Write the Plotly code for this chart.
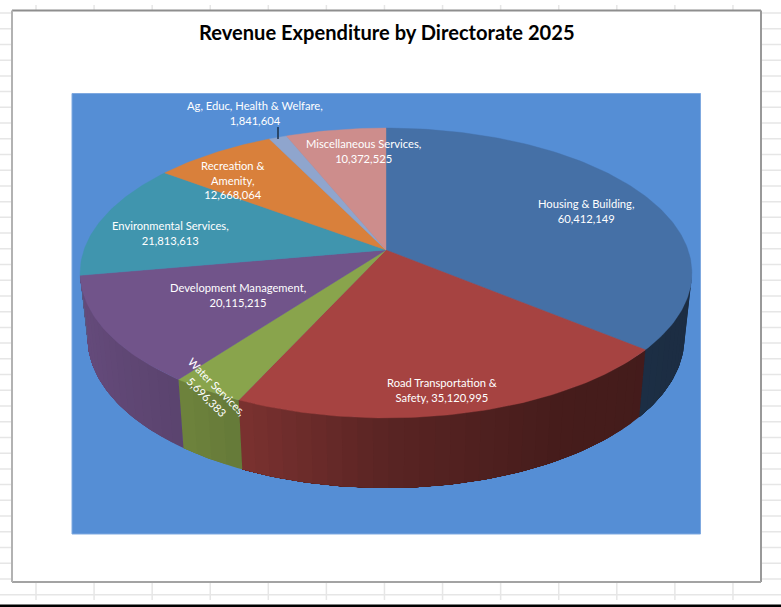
import numpy as np
import plotly.graph_objects as go

# Revenue expenditure by directorate, clockwise from twelve o'clock
directorates = ["Housing & Building", "Road Transportation & Safety", "Water Services",
                "Development Management", "Environmental Services", "Recreation & Amenity",
                "Ag, Educ, Health & Welfare", "Miscellaneous Services"]
expenditure = [60412149, 35120995, 5696383, 20115215, 21813613, 12668064, 1841604, 10372525]
top_colors = ["#4570a6", "#a64341", "#89a44c", "#71548a", "#4095ae", "#d9803b", "#8fa5cd", "#cd8d8c"]

W, H = 781, 607
PIE_X, PIE_Y = 386.0, 250.0
RX, RY, PERSP = 302.0, 141.3, 0.1586


def rim(theta):
    """Perspective projection of a point on the pie's top rim."""
    u, v = np.sin(theta), np.cos(theta)
    w = 1 + PERSP * v
    return PIE_X + RX * u / w, PIE_Y - RY * v / w


def base(x, y):
    """The matching point on the lower edge of the pie's wall."""
    return PIE_X + 0.976 * (x - PIE_X), y + 70 + 0.04 * (y - 418)


def shade(hex_color, factor):
    rgb = [int(hex_color[i:i + 2], 16) for i in (1, 3, 5)]
    return "rgb({},{},{})".format(*[int(round(c * factor)) for c in rgb])


fig = go.Figure()

total = sum(expenditure)
edges = np.radians(np.concatenate([[0], np.cumsum(expenditure) / total * 360]))

# Wall of the pie: bands whose shading darkens from left to right. Each band
# runs on to the end of its slice and the next one paints over it, so no seams show.
WALL_FROM, WALL_TO = np.radians(99), np.radians(261)
for i, color in enumerate(top_colors):
    a0, a1 = max(edges[i], WALL_FROM), min(edges[i + 1], WALL_TO)
    if a1 <= a0:
        continue
    steps = max(1, int(np.degrees(a1 - a0) / 2.5))
    ticks = np.linspace(a0, a1, steps + 1)
    for t0 in ticks[:-1]:
        arc = np.linspace(t0, a1, max(3, int(np.degrees(a1 - t0)) + 2))
        xt, yt = rim(arc)
        xb, yb = base(xt, yt)
        factor = np.interp(np.sin(t0 + (a1 - a0) / steps / 2),
                           [-1, -0.6, -0.42, 0, 0.5, 1],
                           [0.90, 0.80, 0.74, 0.54, 0.42, 0.40])
        fill = shade(color, factor)
        fig.add_trace(go.Scatter(
            x=np.concatenate([xt, xb[::-1]]), y=np.concatenate([yt, yb[::-1]]),
            mode="lines", fill="toself", fillcolor=fill,
            line=dict(width=0),
            hoverinfo="skip", showlegend=False))

# Top face of each slice
for i, color in enumerate(top_colors):
    arc = np.linspace(edges[i], edges[i + 1], max(3, int(np.degrees(edges[i + 1] - edges[i]))))
    xs, ys = rim(arc)
    fig.add_trace(go.Scatter(
        x=np.concatenate([[PIE_X], xs, [PIE_X]]), y=np.concatenate([[PIE_Y], ys, [PIE_Y]]),
        mode="lines", fill="toself", fillcolor=color,
        line=dict(color=color, width=0.4),
        name=directorates[i], text=f"{directorates[i]}: {expenditure[i]:,}", hoverinfo="text",
        showlegend=False))

# Leader line for the smallest slice
fig.add_trace(go.Scatter(x=[278, 278], y=[127, 139], mode="lines",
                         line=dict(color="#1b2f47", width=1.5),
                         hoverinfo="skip", showlegend=False))

# Data labels: (text, centre x, centre y, rotation)
v = [f"{e:,}" for e in expenditure]
labels = [
    (f"Housing & Building,<br>{v[0]}", 586, 210.5, 0),
    (f"Road Transportation &<br>Safety, {v[1]}", 442, 389.5, 0),
    (f"Water Services,<br>{v[2]}", 212, 391.5, 45),
    (f"Development Management,<br>{v[3]}", 238, 295, 0),
    (f"Environmental Services,<br>{v[4]}", 170, 233, 0),
    (f"Recreation &<br>Amenity,<br>{v[5]}", 232, 179.5, 0),
    (f"Ag, Educ, Health & Welfare,<br>{v[6]}", 255, 112.5, 0),
    (f"Miscellaneous Services,<br>{v[7]}", 363, 150.5, 0),
]
annotations = [dict(x=x, y=y, text=t, showarrow=False, textangle=a,
                    xanchor="center", yanchor="middle",
                    font=dict(family="Lato", size=11.2, color="#ffffff"))
               for t, x, y, a in labels]
annotations.append(dict(x=386.5, y=32, text="<b>Revenue Expenditure by Directorate 2025</b>",
                        showarrow=False, xanchor="center", yanchor="middle",
                        font=dict(family="Lato", size=20.1, color="#000000")))

# Worksheet cell lines, chart frame and blue plot panel behind the pie
GRID = "#e6e6e6"
shapes = []
for k in range(38):
    y = 13 + 15.72 * k
    shapes.append(dict(type="line", xref="x", yref="y", x0=0, x1=W, y0=y, y1=y,
                       line=dict(color=GRID, width=1.5), layer="below"))
for k in range(13):
    x = 36 + 58.08 * k
    shapes.append(dict(type="line", xref="x", yref="y", x0=x, x1=x, y0=5, y1=600,
                       line=dict(color=GRID, width=1.5), layer="below"))
shapes.append(dict(type="rect", xref="x", yref="y", x0=-2, x1=W + 2, y0=600, y1=604.5,
                   fillcolor="#ffffff", line=dict(width=0), layer="below"))
shapes.append(dict(type="rect", xref="x", yref="y", x0=12, x1=761, y0=10.5, y1=582,
                   fillcolor="#ffffff", line=dict(width=0), layer="below"))
for x0, y0, x1, y1, edge in [(12, 10.5, 761, 10.5, "#8e8e8e"), (761, 10.5, 761, 582, "#999999"),
                             (12, 582, 761, 582, "#a3a3a3"), (12, 10.5, 12, 582, "#b2b2b2")]:
    shapes.append(dict(type="line", xref="x", yref="y", x0=x0, y0=y0, x1=x1, y1=y1,
                       line=dict(color=edge, width=2), layer="below"))
shapes.append(dict(type="rect", xref="x", yref="y", x0=72, x1=700.5, y0=93.5, y1=534,
                   fillcolor="#558ed5", line=dict(color="#7fa9e0", width=1), layer="below"))
shapes.append(dict(type="rect", xref="x", yref="y", x0=-2, x1=W + 2, y0=604.5, y1=H + 2,
                   fillcolor="#000000", line=dict(width=0), layer="below"))

fig.update_layout(
    width=W, height=H, margin=dict(l=0, r=0, t=0, b=0),
    paper_bgcolor="#ffffff", plot_bgcolor="#ffffff",
    xaxis=dict(range=[0, W], visible=False, fixedrange=True),
    yaxis=dict(range=[H, 0], visible=False, fixedrange=True),
    shapes=shapes, annotations=annotations, showlegend=False,
)

fig.write_html("out.html")
